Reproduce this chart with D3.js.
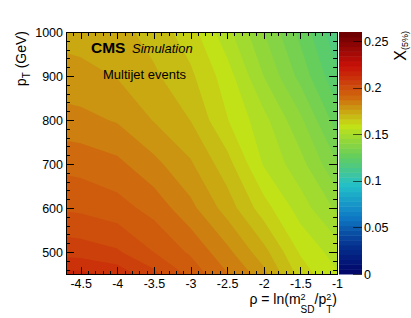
<!DOCTYPE html>
<html>
<head>
<meta charset="utf-8">
<script src="https://cdn.jsdelivr.net/npm/d3@7"></script>
<style>
body { margin: 0; background: #fff; }
text { font-family: "Liberation Sans", Arial, Helvetica, sans-serif; fill: #000; }
</style>
</head>
<body>
<div id="chart"></div>
<script>
// grid nodes (rho = ln(m_SD^2/pT^2), pT in GeV); the -5 column and 400 row sit outside the frame
var rhoNodes = [-5.0, -4.5, -4.0, -3.5, -3.0, -2.5, -2.0, -1.5, -1.0];
var ptNodes = [400, 500, 600, 700, 800, 900, 1000];
// X(5%), one row per ptNodes entry
var x5 = [
  [0.2245, 0.2235, 0.2195, 0.2115, 0.2015, 0.1915, 0.1835, 0.1685, 0.1595],
  [0.2065, 0.2055, 0.2035, 0.1975, 0.1915, 0.1835, 0.1735, 0.1605, 0.1535],
  [0.1975, 0.1965, 0.1945, 0.1905, 0.1835, 0.1745, 0.1635, 0.1535, 0.1445],
  [0.1915, 0.1905, 0.1885, 0.1835, 0.1775, 0.1685, 0.1555, 0.1475, 0.1355],
  [0.1845, 0.1835, 0.1815, 0.1765, 0.1715, 0.1615, 0.1525, 0.1415, 0.1275],
  [0.1795, 0.1785, 0.1765, 0.1725, 0.1675, 0.1585, 0.1455, 0.1335, 0.1205],
  [0.1755, 0.1745, 0.1735, 0.1695, 0.1635, 0.1525, 0.1405, 0.1285, 0.1155]
];
var xTicks = [-4.5, -4, -3.5, -3, -2.5, -2, -1.5, -1];
var yTicks = [500, 600, 700, 800, 900, 1000];
var zTicks = [0, 0.05, 0.1, 0.15, 0.2, 0.25];
var nCont = 50, zMin = 0, zMax = 0.26;

// ROOT kRainBow palette
var palStops = [0, 0.125, 0.25, 0.375, 0.5, 0.625, 0.75, 0.875, 1];
var palColors = ["rgb(0,0,99)", "rgb(5,48,142)", "rgb(15,124,198)", "rgb(35,192,201)",
  "rgb(102,206,90)", "rgb(196,226,22)", "rgb(208,97,13)", "rgb(199,16,8)", "rgb(110,0,2)"];

var W = 411, H = 318;
var margin = { top: 32, left: 66 };
var w = 271, h = 242;

var svg = d3.select("#chart").append("svg")
    .attr("width", W)
    .attr("height", H);

var x = d3.scaleLinear().domain([-4.7, -1]).range([0, w]);
var y = d3.scaleLinear().domain([450, 1000]).range([h, 0]);
var z = d3.scaleLinear().domain([zMin, zMax]).range([h, 0]);
var pal = d3.scaleLinear().domain(palStops).range(palColors).interpolate(d3.interpolateRgb);

function bandColor(k) {
    var idx = Math.floor((k + 0.99) * 255 / nCont);
    return pal(Math.min(idx, 254) / 254);
}

var levels = d3.range(nCont).map(function(k) { return zMin + k * (zMax - zMin) / nCont; });
var grid = [].concat.apply([], x5);
var bands = d3.contours()
    .size([rhoNodes.length, ptNodes.length])
    .thresholds(levels)(grid);

var dRho = rhoNodes[1] - rhoNodes[0], dPt = ptNodes[1] - ptNodes[0];
var proj = d3.geoTransform({
    point: function(px, py) {
        var r = rhoNodes[0] + (px - 0.5) * dRho;
        var p = ptNodes[0] + (py - 0.5) * dPt;
        this.stream.point(x(r), y(p));
    }
});
var path = d3.geoPath(proj);

svg.append("defs").append("clipPath").attr("id", "clip")
    .append("rect").attr("width", w).attr("height", h);

var g = svg.append("g")
    .attr("transform", "translate(" + margin.left + "," + margin.top + ")");

g.append("g")
    .attr("clip-path", "url(#clip)")
    .selectAll("path")
    .data(bands)
    .enter()
    .append("path")
        .attr("d", path)
        .attr("fill", function(d, i) { return bandColor(i); });

// axes, ROOT style: ticks inside, on all four sides
function fmt(d) { return (d < 0 ? "-" : "") + Math.abs(d); }

var axes = g.append("g").attr("class", "axes");
axes.append("g")
    .attr("transform", "translate(0," + h + ")")
    .call(d3.axisBottom(x).tickValues(xTicks).tickSizeInner(-7).tickSizeOuter(0).tickPadding(5).tickFormat(fmt));
axes.append("g")
    .attr("transform", "translate(0," + h + ")")
    .call(d3.axisBottom(x).tickValues(x.ticks(37)).tickSizeInner(-3.5).tickSizeOuter(0).tickFormat(""));
axes.append("g")
    .call(d3.axisTop(x).tickValues(xTicks).tickSizeInner(-7).tickSizeOuter(0).tickFormat(""));
axes.append("g")
    .call(d3.axisTop(x).tickValues(x.ticks(37)).tickSizeInner(-3.5).tickSizeOuter(0).tickFormat(""));
axes.append("g")
    .call(d3.axisLeft(y).tickValues(yTicks).tickSizeInner(-8).tickSizeOuter(0).tickPadding(3).tickFormat(d3.format("d")));
axes.append("g")
    .call(d3.axisLeft(y).tickValues(y.ticks(27)).tickSizeInner(-4).tickSizeOuter(0).tickFormat(""));
axes.append("g")
    .attr("transform", "translate(" + w + ",0)")
    .call(d3.axisRight(y).tickValues(yTicks).tickSizeInner(-8).tickSizeOuter(0).tickFormat(""));
axes.append("g")
    .attr("transform", "translate(" + w + ",0)")
    .call(d3.axisRight(y).tickValues(y.ticks(27)).tickSizeInner(-4).tickSizeOuter(0).tickFormat(""));

axes.selectAll(".domain").remove();
axes.selectAll("line").attr("stroke", "#000").attr("shape-rendering", "crispEdges");
axes.selectAll("text").style("font-size", "12.5px").attr("fill", "#000")
    .style("font-family", '"Liberation Sans", Arial, sans-serif');

g.append("rect")
    .attr("width", w).attr("height", h)
    .attr("fill", "none").attr("stroke", "#000")
    .attr("shape-rendering", "crispEdges");

// colour bar
var cb = svg.append("g").attr("transform", "translate(339," + margin.top + ")");
var step = (zMax - zMin) / nCont;
cb.selectAll("rect.lvl")
    .data(levels)
    .enter()
    .append("rect")
        .attr("class", "lvl")
        .attr("x", 0)
        .attr("width", 23)
        .attr("y", function(d) { return z(d + step); })
        .attr("height", function(d) { return z(d) - z(d + step) + 0.5; })
        .attr("fill", function(d, i) { return bandColor(i); });

var zax = cb.append("g")
    .attr("transform", "translate(23,0)")
    .call(d3.axisRight(z).tickValues(zTicks).tickSizeInner(-9).tickSizeOuter(0).tickPadding(2).tickFormat(function(d) { return String(d); }));
zax.select(".domain").remove();
zax.selectAll("line").attr("stroke", "#000").attr("stroke-opacity", 0.6).attr("shape-rendering", "crispEdges");
zax.selectAll("text").style("font-size", "12.5px").attr("fill", "#000");

// titles
var yt = svg.append("text")
    .attr("transform", "translate(26,31) rotate(-90)")
    .attr("text-anchor", "end")
    .style("font-size", "14px");
yt.append("tspan").text("p");
yt.append("tspan").attr("dy", 4).style("font-size", "10px").text("T");
yt.append("tspan").attr("dy", -4).text(" (GeV)");

// x title: superscripts and subscripts stacked as in ROOT's m^{2}_{SD}
var xt = svg.append("text")
    .attr("x", 337).attr("y", 304)
    .attr("text-anchor", "end")
    .style("font-size", "14px");
xt.append("tspan").text("\u03c1 = ln(m");
xt.append("tspan").attr("dy", -4.5).style("font-size", "9px").text("2");
xt.append("tspan").attr("dy", 13.5).attr("dx", -5).style("font-size", "10px").text("SD");
xt.append("tspan").attr("dy", -9).text("/p");
xt.append("tspan").attr("dy", -4.5).style("font-size", "9px").text("2");
xt.append("tspan").attr("dy", 13.5).attr("dx", -5).style("font-size", "10px").text("T");
xt.append("tspan").attr("dy", -9).text(")");

var zt = svg.append("text")
    .attr("transform", "translate(406,31) rotate(-90)")
    .attr("text-anchor", "end")
    .style("font-size", "16px");
zt.append("tspan").text("X");
zt.append("tspan").attr("dy", 2).style("font-size", "9px").text("(5%)");

// CMS labels
svg.append("text")
    .attr("x", 91).attr("y", 53)
    .style("font-size", "15.5px").style("font-weight", "bold")
    .text("CMS");
svg.append("text")
    .attr("x", 132).attr("y", 53)
    .style("font-size", "13px").style("font-style", "italic")
    .text("Simulation");
svg.append("text")
    .attr("x", 103).attr("y", 79)
    .style("font-size", "13px")
    .text("Multijet events");
</script>
</body>
</html>
